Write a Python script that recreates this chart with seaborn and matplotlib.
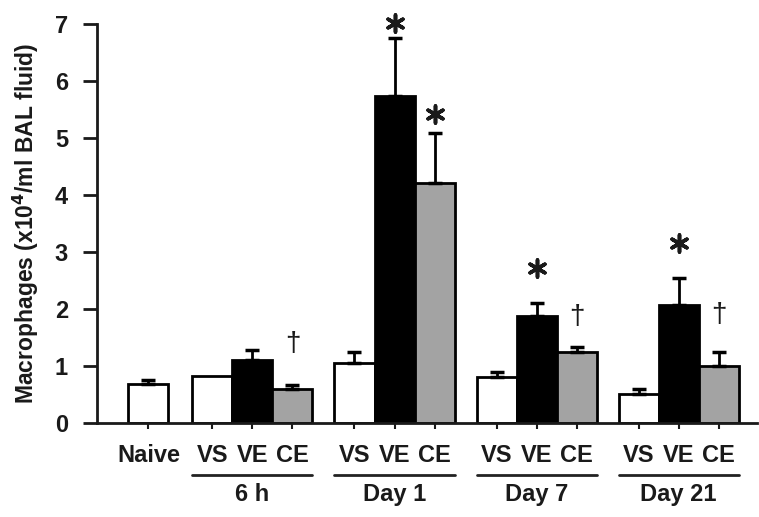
import numpy as np
import pandas as pd
import seaborn as sns
import matplotlib.pyplot as plt

# values (x10^4 / ml BAL fluid)
groups = ['6 h', 'Day 1', 'Day 7', 'Day 21']
treatments = ['VS', 'VE', 'CE']
naive_mean = 0.68
naive_err = 0.08
vs_mean = [0.82, 1.05, 0.81, 0.51]
vs_err = [0.0, 0.19, 0.08, 0.09]
ve_mean = [1.10, 5.74, 1.88, 2.07]
ve_err = [0.18, 1.01, 0.22, 0.47]
ce_mean = [0.59, 4.21, 1.25, 0.99]
ce_err = [0.08, 0.88, 0.08, 0.26]
# significance marks: (group, treatment, height of symbol centre)
stars = [('Day 1', 'VE', 7.02), ('Day 1', 'CE', 5.42), ('Day 7', 'VE', 2.72), ('Day 21', 'VE', 3.15)]
daggers = [('6 h', 'CE', 1.38), ('Day 7', 'CE', 1.86), ('Day 21', 'CE', 1.90)]

colors = {'Naive': 'white', 'VS': 'white', 'VE': 'black', 'CE': '#a3a3a3'}

# layout of bars along x
group_step = 3.55
first_group = 1.6
rows = [{'pos': 0.0, 'label': 'Naive', 'group': 'Naive', 'mean': naive_mean, 'err': naive_err}]
for g, name in enumerate(groups):
    vals = [(vs_mean[g], vs_err[g]), (ve_mean[g], ve_err[g]), (ce_mean[g], ce_err[g])]
    for t, tr in enumerate(treatments):
        rows.append({'pos': round(first_group + g * group_step + t, 3), 'label': tr,
                     'group': name, 'mean': vals[t][0], 'err': vals[t][1]})
df = pd.DataFrame(rows)
pos_of = {(r.group, r.label): r.pos for r in df.itertuples()}

sns.set_style('ticks')
plt.rcParams['font.family'] = ['Liberation Sans', 'DejaVu Sans']
plt.rcParams['font.weight'] = 'bold'
plt.rcParams['text.color'] = '#1a1a1a'
plt.rcParams['axes.labelcolor'] = '#1a1a1a'
plt.rcParams['xtick.labelcolor'] = '#1a1a1a'
plt.rcParams['ytick.labelcolor'] = '#1a1a1a'

fig = plt.figure(figsize=(7.59, 5.17), dpi=100)
ax = fig.add_axes([0.128, 0.182, 0.869, 0.772])

sns.barplot(data=df, x='pos', y='mean', hue='label', palette=colors, dodge=False,
            native_scale=True, width=1.0, errorbar=None, edgecolor='black',
            linewidth=2, legend=False, ax=ax)

# upper error bars only (none drawn where the SEM is not visible)
eb = df[df['err'] > 0]
ax.errorbar(eb['pos'], eb['mean'], yerr=[np.zeros(len(eb)), eb['err']], fmt='none',
            ecolor='black', elinewidth=2, capsize=5, capthick=2.5)

# asterisks and daggers
ax.scatter([pos_of[(g, t)] for g, t, _ in stars], [h for _, _, h in stars],
           marker=(6, 2, 0), s=150, linewidths=2.6, color='#1a1a1a', clip_on=False, zorder=5)
for g, t, h in daggers:
    ax.text(pos_of[(g, t)], h, '\u2020', ha='center', va='center', fontsize=20,
            fontweight='normal')

ax.set_xlim(-1.28, 15.2)
ax.set_ylim(0, 7)
ax.set_yticks(range(0, 8))
ax.set_xticks(df['pos'])
ax.set_xticklabels(df['label'])
ax.tick_params(axis='x', length=4, width=1.5, pad=11, labelsize=17, color='#1a1a1a')
ax.tick_params(axis='y', length=10, width=2, pad=11, labelsize=17, color='#1a1a1a')
for s in ['top', 'right']:
    ax.spines[s].set_visible(False)
for s in ['left', 'bottom']:
    ax.spines[s].set_linewidth(2)
    ax.spines[s].set_color('#1a1a1a')
ax.set_xlabel('')
ax.set_ylabel('Macrophages (x10$^\\mathbf{4}$/ml BAL fluid)', fontsize=16.5, fontweight='bold', labelpad=10)

# group underlines and names
trans = ax.get_xaxis_transform()
for g, name in enumerate(groups):
    left = first_group + g * group_step - 0.5
    right = left + 3
    ax.plot([left, right], [-0.13, -0.13], color='#222222', lw=2, transform=trans, clip_on=False)
    ax.text((left + right) / 2, -0.18, name, transform=trans, ha='center', va='center',
            fontsize=17, fontweight='bold')

fig.savefig('out.png', dpi=100)
